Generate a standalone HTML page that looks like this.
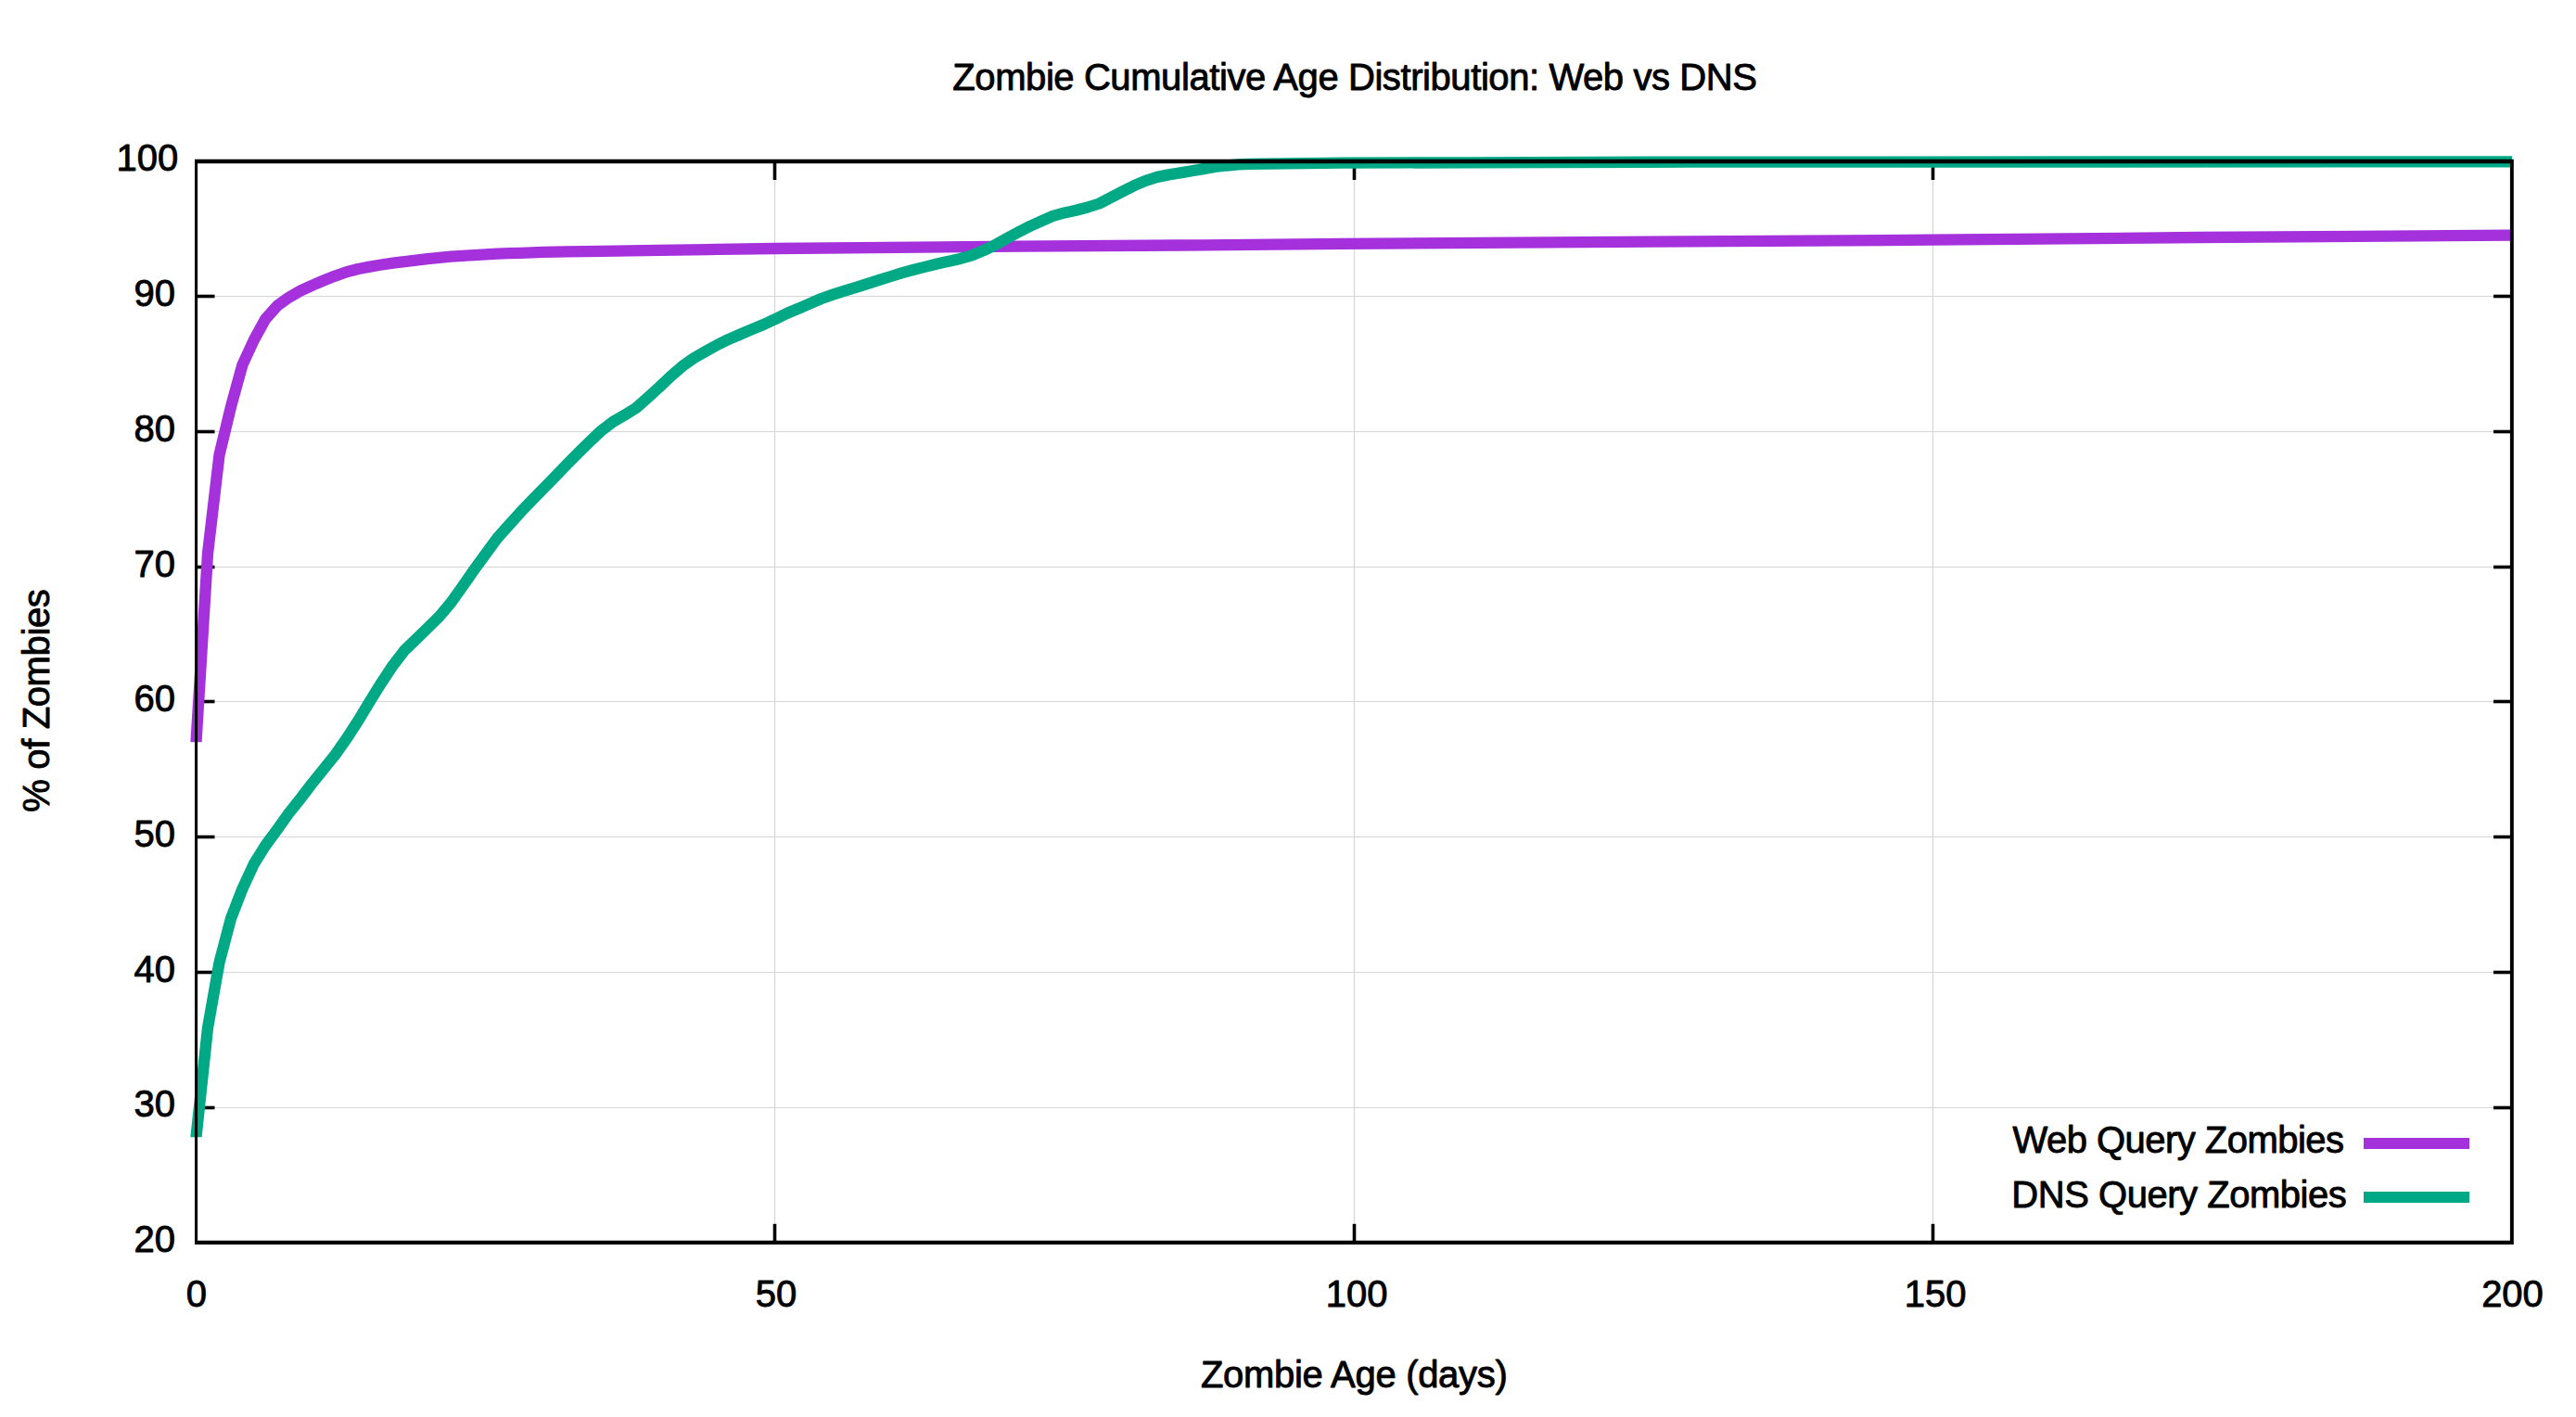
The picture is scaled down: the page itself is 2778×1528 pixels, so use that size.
<!DOCTYPE html>
<html><head><meta charset="utf-8"><title>Zombie Cumulative Age Distribution: Web vs DNS</title>
<style>html,body{margin:0;padding:0;background:#fff}svg{display:block}text{font-family:"Liberation Sans",Arial,Helvetica,sans-serif;font-size:40px;fill:#000;stroke:#000;stroke-width:0.9px;stroke-linejoin:round}</style></head><body>
<svg width="2778" height="1528" viewBox="0 0 2778 1528">
<rect width="2778" height="1528" fill="#fff"/>
<g stroke="#d5d5d5" stroke-width="1.2" fill="none"><line x1="211.5" y1="1194.5" x2="2709.0" y2="1194.5"/><line x1="211.5" y1="1048.5" x2="2709.0" y2="1048.5"/><line x1="211.5" y1="902.5" x2="2709.0" y2="902.5"/><line x1="211.5" y1="756.5" x2="2709.0" y2="756.5"/><line x1="211.5" y1="611.5" x2="2709.0" y2="611.5"/><line x1="211.5" y1="465.5" x2="2709.0" y2="465.5"/><line x1="211.5" y1="319.5" x2="2709.0" y2="319.5"/><line x1="835.5" y1="174.0" x2="835.5" y2="1339.8"/><line x1="1460.5" y1="174.0" x2="1460.5" y2="1339.8"/><line x1="2084.5" y1="174.0" x2="2084.5" y2="1339.8"/></g>
<g stroke="#000" stroke-width="3.6" fill="none"><line x1="211.5" y1="1194.5" x2="231.5" y2="1194.5"/><line x1="2689.0" y1="1194.5" x2="2709.0" y2="1194.5"/><line x1="211.5" y1="1048.5" x2="231.5" y2="1048.5"/><line x1="2689.0" y1="1048.5" x2="2709.0" y2="1048.5"/><line x1="211.5" y1="902.5" x2="231.5" y2="902.5"/><line x1="2689.0" y1="902.5" x2="2709.0" y2="902.5"/><line x1="211.5" y1="756.5" x2="231.5" y2="756.5"/><line x1="2689.0" y1="756.5" x2="2709.0" y2="756.5"/><line x1="211.5" y1="611.5" x2="231.5" y2="611.5"/><line x1="2689.0" y1="611.5" x2="2709.0" y2="611.5"/><line x1="211.5" y1="465.5" x2="231.5" y2="465.5"/><line x1="2689.0" y1="465.5" x2="2709.0" y2="465.5"/><line x1="211.5" y1="319.5" x2="231.5" y2="319.5"/><line x1="2689.0" y1="319.5" x2="2709.0" y2="319.5"/><line x1="835.5" y1="1339.8" x2="835.5" y2="1319.8"/><line x1="835.5" y1="174.0" x2="835.5" y2="194.0"/><line x1="1460.5" y1="1339.8" x2="1460.5" y2="1319.8"/><line x1="1460.5" y1="174.0" x2="1460.5" y2="194.0"/><line x1="2084.5" y1="1339.8" x2="2084.5" y2="1319.8"/><line x1="2084.5" y1="174.0" x2="2084.5" y2="194.0"/></g>
<clipPath id="cp"><rect x="199.5" y="166.0" width="2511.7" height="634.3"/></clipPath>
<path fill="none" stroke-width="12.3" stroke-linejoin="round" stroke-linecap="butt" clip-path="url(#cp)" stroke="#a431dc" d="M211.3,804.0 L211.5,800.0 L224.0,597.0 L236.5,490.5 L249.0,438.7 L261.4,393.5 L273.9,366.5 L286.4,343.8 L298.9,329.8 L311.4,320.8 L323.9,313.6 L336.4,307.8 L348.9,302.5 L361.4,297.6 L373.8,293.2 L386.3,290.0 L398.8,287.6 L411.3,285.5 L423.8,283.6 L436.3,282.1 L448.8,280.7 L461.2,279.2 L473.7,277.9 L486.2,276.7 L498.7,275.9 L511.2,275.1 L523.7,274.4 L536.2,273.7 L548.7,273.2 L561.1,272.8 L573.6,272.3 L586.1,271.9 L611.1,271.4 L648.6,270.8 L711.0,269.8 L773.4,268.9 L835.9,268.0 L1098.1,265.7 L1297.9,264.3 L1447.8,262.9 L2084.6,258.7 L2371.8,256.0 L2709.0,253.7"/>
<clipPath id="cg"><rect x="199.5" y="166.0" width="2511.7" height="1060.3"/></clipPath>
<path fill="none" stroke-width="12.3" stroke-linejoin="round" stroke-linecap="butt" clip-path="url(#cg)" stroke="#00a985" d="M211.1,1230.0 L211.5,1226.0 L224.0,1108.5 L236.5,1038.0 L249.0,990.5 L261.4,958.5 L273.9,931.5 L286.4,911.5 L298.9,894.6 L311.4,877.0 L323.9,861.3 L336.4,845.0 L348.9,829.5 L361.4,814.0 L373.8,796.4 L386.3,777.1 L398.8,756.4 L411.3,736.3 L423.8,717.4 L436.3,701.2 L448.8,689.2 L461.2,677.1 L473.7,664.9 L486.2,650.0 L498.7,632.5 L511.2,614.6 L523.7,597.3 L536.2,580.3 L548.7,566.3 L561.1,552.6 L573.6,539.6 L586.1,526.8 L598.6,514.0 L611.1,501.0 L623.6,488.4 L636.1,476.2 L648.6,464.3 L661.0,454.8 L673.5,447.7 L686.0,439.9 L698.5,428.8 L711.0,417.5 L723.5,405.6 L736.0,394.8 L748.5,386.0 L761.0,378.9 L773.4,372.0 L785.9,365.8 L798.4,360.5 L810.9,355.2 L823.4,350.0 L835.9,344.2 L848.4,338.0 L860.9,332.8 L873.3,327.3 L885.8,322.0 L898.3,317.6 L910.8,313.7 L923.3,309.8 L935.8,305.9 L948.3,301.9 L960.8,298.0 L973.2,294.1 L985.7,290.7 L998.2,287.6 L1010.7,284.5 L1023.2,281.7 L1035.7,278.9 L1048.2,275.3 L1060.7,270.1 L1073.1,264.2 L1085.6,257.1 L1098.1,250.4 L1110.6,244.0 L1123.1,238.4 L1135.6,232.9 L1148.1,229.4 L1160.5,226.8 L1173.0,223.5 L1185.5,219.5 L1198.0,213.0 L1210.5,206.5 L1223.0,200.2 L1235.5,194.8 L1248.0,190.9 L1260.5,188.4 L1272.9,186.4 L1285.4,184.3 L1297.9,182.1 L1310.4,179.9 L1322.9,178.5 L1335.4,177.4 L1347.9,176.8 L1447.8,175.7 L1585.1,175.3 L1822.4,174.6 L2709.0,174.4"/>
<line x1="2549" y1="1233" x2="2663" y2="1233" stroke="#a431dc" stroke-width="12"/>
<line x1="2549" y1="1291" x2="2663" y2="1291" stroke="#00a985" stroke-width="12"/>
<path fill="#000" fill-rule="evenodd" d="M210,171.8H2710.8V1341.9H210Z M213.1,176.3V1337.8H2706.9V176.3Z"/>
<text x="1460.9" y="96.5" text-anchor="middle" id="title" style="letter-spacing:-0.415px">Zombie Cumulative Age Distribution: Web vs DNS</text>
<text x="1460.2" y="1496" text-anchor="middle" id="xl" style="letter-spacing:-0.31px">Zombie Age (days)</text>
<text transform="translate(53.2,755.6) rotate(-90)" text-anchor="middle" id="yl" style="letter-spacing:-0.36px">% of Zombies</text>
<text x="189.0" y="1350.1" text-anchor="end">20</text>
<text x="189.0" y="1204.4" text-anchor="end">30</text>
<text x="189.0" y="1058.6" text-anchor="end">40</text>
<text x="189.0" y="912.9" text-anchor="end">50</text>
<text x="189.0" y="767.2" text-anchor="end">60</text>
<text x="189.0" y="621.5" text-anchor="end">70</text>
<text x="189.0" y="475.7" text-anchor="end">80</text>
<text x="189.0" y="330.0" text-anchor="end">90</text>
<text x="192.2" y="184.3" text-anchor="end">100</text>
<text x="211.8" y="1409" text-anchor="middle">0</text>
<text x="836.9" y="1409" text-anchor="middle">50</text>
<text x="1463.2" y="1409" text-anchor="middle">100</text>
<text x="2087.1" y="1409" text-anchor="middle">150</text>
<text x="2709.5" y="1409" text-anchor="middle">200</text>
<text x="2527.5" y="1243" text-anchor="end" id="l1" style="letter-spacing:-0.53px">Web Query Zombies</text>
<text x="2530.3" y="1301.5" text-anchor="end" id="l2" style="letter-spacing:-0.47px">DNS Query Zombies</text>
</svg></body></html>
